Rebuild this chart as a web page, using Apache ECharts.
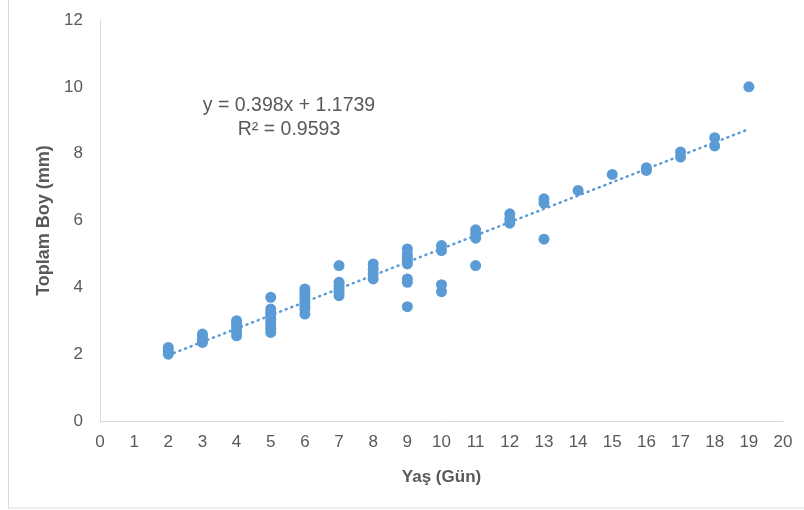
<!DOCTYPE html>
<html>
<head>
<meta charset="utf-8">
<script src="https://cdn.jsdelivr.net/npm/echarts@6/dist/echarts.min.js"></script>
<style>
  html, body { margin: 0; padding: 0; background: #fff; }
  #chart { width: 804px; height: 510px; }
</style>
</head>
<body>
<div id="chart"></div>
<script>
// Age (days) of each measured larva
const ages = [
  2, 2, 2,
  3, 3, 3, 3,
  4, 4, 4, 4, 4, 4,
  5, 5, 5, 5, 5, 5, 5, 5, 5,
  6, 6, 6, 6, 6, 6, 6, 6,
  7, 7, 7, 7, 7, 7,
  8, 8, 8, 8,
  9, 9, 9, 9, 9, 9, 9, 9,
  10, 10, 10, 10,
  11, 11, 11, 11,
  12, 12, 12,
  13, 13, 13,
  14,
  15,
  16, 16,
  17, 17,
  18, 18,
  19
];
// Total length (mm) for each age above
const lengths = [
  2.0, 2.1, 2.2,
  2.35, 2.45, 2.55, 2.6,
  2.55, 2.65, 2.75, 2.85, 2.95, 3.0,
  3.7, 3.35, 3.25, 3.15, 3.05, 2.95, 2.85, 2.75, 2.65,
  3.95, 3.85, 3.75, 3.65, 3.55, 3.45, 3.35, 3.2,
  4.65, 4.15, 4.05, 3.95, 3.85, 3.75,
  4.7, 4.55, 4.4, 4.25,
  5.15, 5.0, 4.9, 4.8, 4.7, 4.25, 4.15, 3.42,
  5.25, 5.1, 4.08, 3.87,
  5.72, 5.6, 5.47, 4.65,
  6.2, 6.05, 5.92,
  6.65, 6.52, 5.44,
  6.9,
  7.38,
  7.58, 7.5,
  8.05, 7.9,
  8.48, 8.23,
  10.0
];

// Linear trend line as reported on the chart
const trendSlope = 0.398;
const trendIntercept = 1.1739;
const trendR2 = 0.9593;
const trendRange = [2, 19];

const xTitle = 'Yaş (Gün)';
const yTitle = 'Toplam Boy (mm)';
const equationText = 'y = ' + trendSlope + 'x + ' + trendIntercept;
const r2Text = 'R² = ' + trendR2;

const points = ages.map((a, i) => [a, lengths[i]]);
const trendPoints = trendRange.map(x => [x, trendSlope * x + trendIntercept]);

const blue = '#5B9BD5';
const grey = '#595959';
const font = '"Liberation Sans", Arial, sans-serif';

const chart = echarts.init(document.getElementById('chart'), null, { renderer: 'canvas' });
chart.setOption({
  animation: false,
  backgroundColor: '#fff',
  grid: { left: 100, right: 21, top: 20, bottom: 89, containLabel: false },
  xAxis: {
    type: 'value', min: 0, max: 20, interval: 1,
    name: xTitle, nameLocation: 'middle', nameGap: 48,
    nameTextStyle: { color: grey, fontSize: 17, fontWeight: 'bold', fontFamily: font },
    axisLine: { show: true, lineStyle: { color: '#D9D9D9', width: 1 } },
    axisTick: { show: false },
    splitLine: { show: false },
    axisLabel: { color: grey, fontSize: 17, fontFamily: font, margin: 13 }
  },
  yAxis: {
    type: 'value', min: 0, max: 12, interval: 2,
    name: yTitle, nameLocation: 'middle', nameGap: 46,
    nameTextStyle: { color: grey, fontSize: 18, fontWeight: 'bold', fontFamily: font },
    axisLine: { show: true, lineStyle: { color: '#D9D9D9', width: 1 } },
    axisTick: { show: false },
    splitLine: { show: false },
    axisLabel: { color: grey, fontSize: 17, fontFamily: font, margin: 17 }
  },
  graphic: [
    {
      type: 'rect', silent: true, z: -1,
      shape: { x: 8.5, y: -2, width: 796, height: 510 },
      style: { fill: 'none', stroke: '#D9D9D9', lineWidth: 1 }
    },
    {
      type: 'text', x: 289, y: 106, z: 10,
      style: {
        text: equationText, fill: grey, font: '19.5px ' + font,
        align: 'center', verticalAlign: 'middle'
      }
    },
    {
      type: 'text', x: 289, y: 130, z: 10,
      style: {
        text: r2Text, fill: grey, font: '19.5px ' + font,
        align: 'center', verticalAlign: 'middle'
      }
    }
  ],
  series: [
    {
      type: 'line',
      data: trendPoints,
      showSymbol: false,
      lineStyle: { color: blue, width: 2.5, type: [1, 5], cap: 'round' },
      z: 3
    },
    {
      type: 'scatter',
      data: points,
      symbol: 'circle',
      symbolSize: 11,
      itemStyle: { color: blue, opacity: 1 },
      z: 2
    }
  ]
});
</script>
</body>
</html>
